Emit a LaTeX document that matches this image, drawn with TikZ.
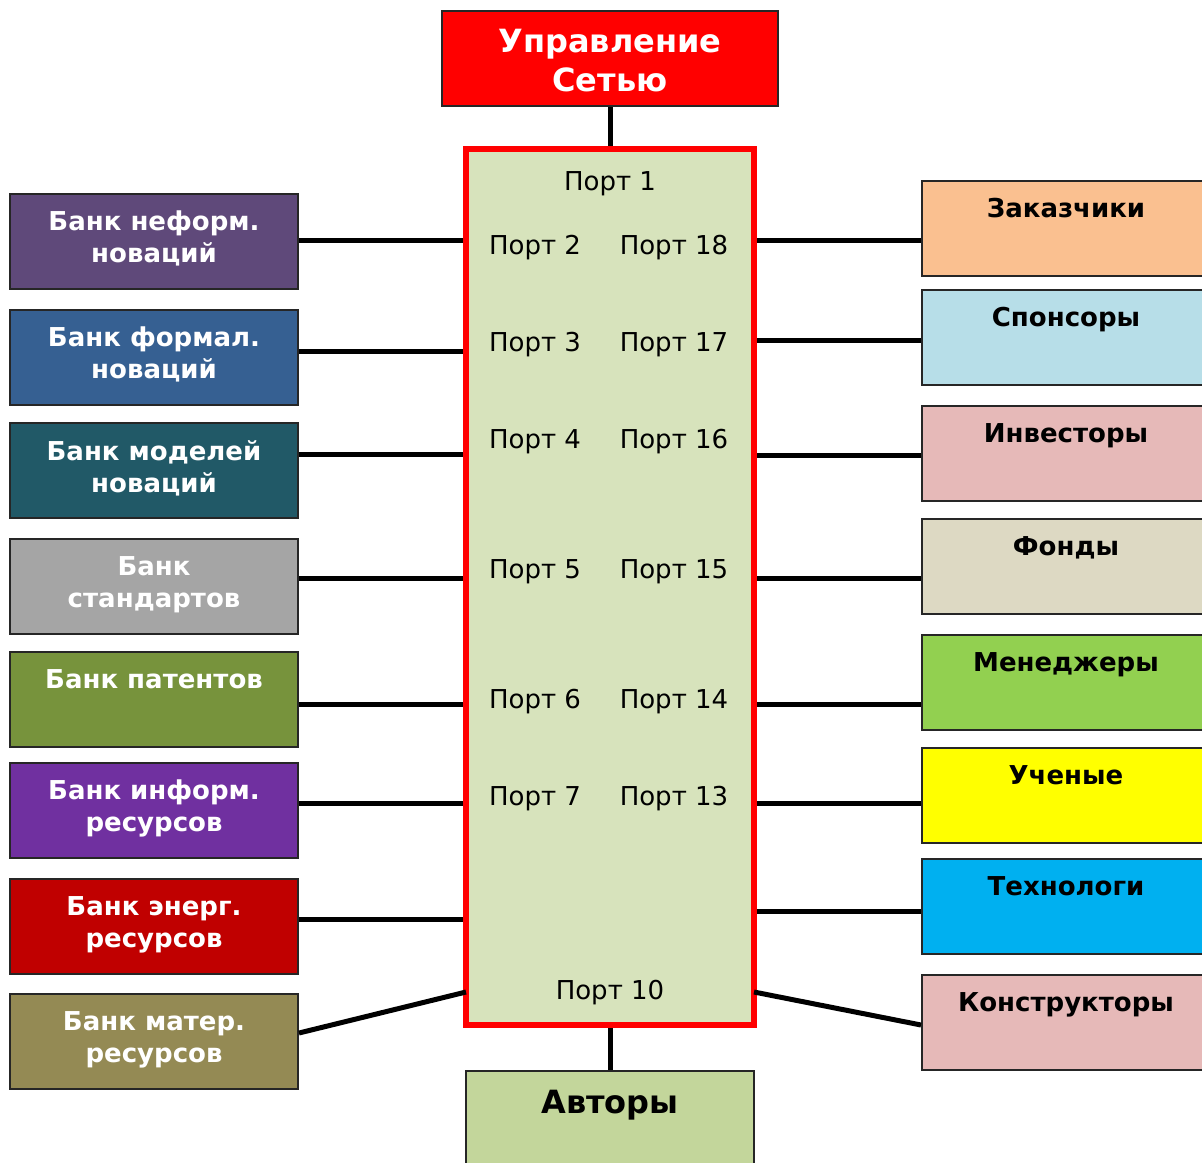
\documentclass[tikz,border=0pt]{standalone}
\usepackage{fontspec}
\setmainfont{DejaVu Sans}
\usetikzlibrary{positioning}

\definecolor{hubgreen}{HTML}{D7E3BC}
\definecolor{authgreen}{HTML}{C3D69B}

\begin{document}
\begin{tikzpicture}[x=1pt,y=-1pt,
    box/.style={draw=black!85, line width=2pt, minimum width=288pt, minimum height=95pt, inner sep=0pt, anchor=north},
    boxtext/.style={font=\bfseries\fontsize{26}{32}\selectfont, align=center, inner sep=0pt, anchor=north},
    porttext/.style={font=\fontsize{26}{30}\selectfont, inner sep=0pt},
    link/.style={line width=5pt}]
        \useasboundingbox (0,0) rectangle (1202,1162);
        \clip (0,0) rectangle (1202,1162);

        % Network hub
        \node[draw=red, line width=6.5pt, fill=hubgreen, minimum width=288pt, minimum height=876pt, inner sep=0pt] (hub) at (610,587) {};

        % Control box
        \node[draw=black!85, line width=2pt, fill=red, minimum width=336pt, minimum height=95pt, inner sep=0pt] (control) at (610,58.5) {};
        \node[font=\bfseries\fontsize{32}{39}\selectfont, text=white, align=center, inner sep=0pt] (controllabel) at (610,61) {Управление\\Сетью};
        \draw[link] (control.south) -- (hub.north);

        % Ports
        \node[porttext] (port1) at (610,184) {Порт 1};
        \node[porttext] (port10) at (610,993) {Порт 10};
        \foreach \l/\r/\y in {2/18/248,3/17/345,4/16/442,5/15/572,6/14/702,7/13/799} {
          \node[porttext] (port\l) at (535,\y) {Порт \l};
          \node[porttext] (port\r) at (674,\y) {Порт \r};
        }

        % Banks (left)
        \foreach \i/\t/\c/\txt in {1/193/5F497A/{Банк неформ.\\новаций},
                                   2/309/366092/{Банк формал.\\новаций},
                                   3/422/215967/{Банк моделей\\новаций},
                                   4/538/A5A5A5/{Банк\\стандартов},
                                   5/651/77933C/{Банк патентов},
                                   6/762/7030A0/{Банк информ.\\ресурсов},
                                   7/878/C00000/{Банк энерг.\\ресурсов},
                                   8/993/948A54/{Банк матер.\\ресурсов}} {
          \definecolor{bankfill}{HTML}{\c}
          \node[box, fill=bankfill] (bank\i) at (154,\t) {};
          \node[boxtext, text=white] (banklabel\i) at ([yshift=-18pt]bank\i.north) {\txt};
        }
        \foreach \i/\y in {1/240,2/351,3/454,4/578,5/704,6/803,7/919} {
          \draw[link] (bank\i.east |- 0,\y) -- (hub.west |- 0,\y);
        }
        \coordinate (hubsw) at (466,992);
        \draw[link] (bank8.east |- 0,1033) -- (hubsw);

        % Participants (right)
        \foreach \i/\t/\c/\txt in {1/180/FAC090/Заказчики,
                                   2/289/B7DEE8/Спонсоры,
                                   3/405/E6B9B8/Инвесторы,
                                   4/518/DDD9C3/Фонды,
                                   5/634/92D050/Менеджеры,
                                   6/747/FFFF00/Ученые,
                                   7/858/00B0F0/Технологи,
                                   8/974/E6B9B8/Конструкторы} {
          \definecolor{userfill}{HTML}{\c}
          \node[box, fill=userfill] (user\i) at (1066,\t) {};
          \node[boxtext] (userlabel\i) at ([yshift=-18pt]user\i.north) {\txt};
        }
        \foreach \i/\y in {1/240,2/340,3/455,4/578,5/704,6/803,7/911} {
          \draw[link] (hub.east |- 0,\y) -- (user\i.west |- 0,\y);
        }
        \coordinate (hubse) at (754,992);
        \draw[link] (hubse) -- (user8.west |- 0,1025);

        % Authors
        \node[box, fill=authgreen] (authors) at (610,1070) {};
        \node[boxtext, font=\bfseries\fontsize{32}{39}\selectfont, anchor=base] (authorslabel) at ([yshift=-43pt]authors.north) {Авторы};
        \draw[link] (hub.south) -- (authors.north);

    \end{tikzpicture}
\end{document}
